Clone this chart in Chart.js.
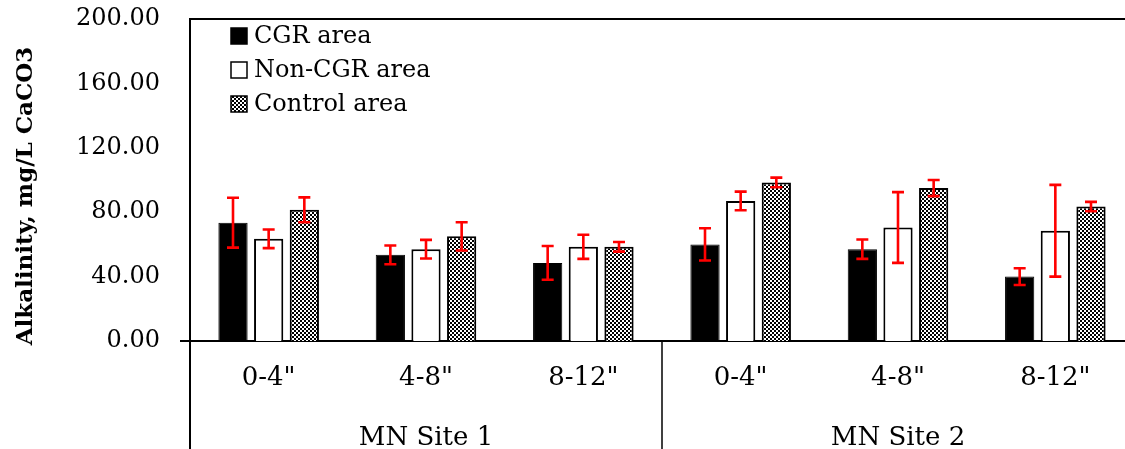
<!DOCTYPE html>
<html>
<head>
<meta charset="utf-8">
<script src="https://cdn.jsdelivr.net/npm/chart.js@4.4.1/dist/chart.umd.min.js"></script>
<style>
  html, body { margin: 0; padding: 0; background: #fff; overflow: hidden; }
  #wrap { width: 1134px; height: 449px; }
</style>
</head>
<body>
<div id="wrap"><canvas id="chart" width="1134" height="449"></canvas></div>
<script>
// data
const depths = ['0-4"', '4-8"', '8-12"', '0-4"', '4-8"', '8-12"'];
const sites = ['MN Site 1', 'MN Site 2'];

const cgr = [73.5, 53.5, 48.5, 60, 57, 40];
const cgrErr = [15.5, 5.8, 10.5, 10, 6, 5.2];
const nonCgr = [63.5, 57, 58.5, 87, 70.5, 68.5];
const nonCgrErr = [5.8, 5.8, 7.5, 5.8, 22, 28.5];
const control = [81.5, 65, 58.5, 98.5, 95, 83.5];
const controlErr = [7.7, 8.8, 3, 3, 5, 2.9];

const yMin = 0, yMax = 200, yStep = 40;
const yTitle = 'Alkalinity, mg/L CaCO3';

// checker pattern for the control bars
const pc = document.createElement('canvas');
pc.width = 4; pc.height = 4;
const pctx = pc.getContext('2d');
pctx.fillStyle = '#fff';
pctx.fillRect(0, 0, 4, 4);
pctx.fillStyle = '#000';
pctx.fillRect(0, 0, 2, 2);
pctx.fillRect(2, 2, 2, 2);
const checker = pctx.createPattern(pc, 'repeat');

Chart.defaults.color = '#000';
Chart.defaults.font.family = 'DejaVu Serif';

// red error bars
const errorBars = {
  id: 'errorBars',
  afterDatasetsDraw(chart) {
    const ctx = chart.ctx;
    const y = chart.scales.y;
    ctx.save();
    ctx.strokeStyle = '#ff0000';
    ctx.lineWidth = 2.6;
    chart.data.datasets.forEach((ds, di) => {
      const meta = chart.getDatasetMeta(di);
      meta.data.forEach((bar, i) => {
        const v = ds.data[i], e = ds.errors[i];
        const top = y.getPixelForValue(v + e);
        const bot = y.getPixelForValue(v - e);
        ctx.beginPath();
        ctx.moveTo(bar.x, top); ctx.lineTo(bar.x, bot);
        ctx.moveTo(bar.x - 6, top); ctx.lineTo(bar.x + 6, top);
        ctx.moveTo(bar.x - 6, bot); ctx.lineTo(bar.x + 6, bot);
        ctx.stroke();
      });
    });
    ctx.restore();
  }
};

// frame lines, group separators, axis title and the legend box
const frame = {
  id: 'frame',
  afterDraw(chart) {
    const ctx = chart.ctx;
    const a = chart.chartArea;
    const x = chart.scales.x;
    const h = chart.height;
    ctx.save();
    ctx.strokeStyle = '#000';
    ctx.lineWidth = 2;
    ctx.beginPath();
    ctx.moveTo(a.left - 1, a.top); ctx.lineTo(a.right, a.top);
    ctx.moveTo(a.left, a.bottom); ctx.lineTo(a.left, h);
    ctx.moveTo(a.left - 10, a.bottom); ctx.lineTo(a.left, a.bottom);
    ctx.stroke();
    ctx.lineWidth = 1.5;
    const mid = (x.getPixelForValue(2) + x.getPixelForValue(3)) / 2;
    ctx.beginPath();
    ctx.moveTo(mid, a.bottom); ctx.lineTo(mid, h);
    ctx.stroke();

    // y axis title
    ctx.save();
    ctx.translate(26, 196);
    ctx.rotate(-Math.PI / 2);
    ctx.font = 'bold 23px "DejaVu Serif"';
    ctx.textAlign = 'center';
    ctx.textBaseline = 'middle';
    ctx.fillStyle = '#000';
    ctx.fillText(yTitle, 0, 0);
    ctx.restore();

    // legend
    ctx.font = '24px "DejaVu Serif"';
    ctx.textBaseline = 'middle';
    chart.data.datasets.forEach((ds, i) => {
      const cy = 36 + i * 34;
      ctx.fillStyle = ds.backgroundColor;
      ctx.fillRect(231, cy - 8, 16, 16);
      ctx.lineWidth = 1.5;
      ctx.strokeStyle = '#000';
      ctx.strokeRect(231, cy - 8, 16, 16);
      ctx.fillStyle = '#000';
      ctx.fillText(ds.label, 254, cy + 1);
    });
    ctx.restore();
  }
};

new Chart(document.getElementById('chart'), {
  type: 'bar',
  data: {
    labels: depths,
    datasets: [
      { label: 'CGR area', data: cgr, errors: cgrErr, backgroundColor: '#000', borderColor: '#000', borderWidth: 1 },
      { label: 'Non-CGR area', data: nonCgr, errors: nonCgrErr, backgroundColor: '#fff', borderColor: '#000', borderWidth: 2 },
      { label: 'Control area', data: control, errors: controlErr, backgroundColor: checker, borderColor: '#000', borderWidth: 2 }
    ]
  },
  options: {
    responsive: false,
    animation: false,
    events: [],
    barPercentage: 0.82,
    categoryPercentage: 0.68,
    layout: { padding: { top: 19, right: 0, bottom: 0, left: 0 } },
    plugins: { legend: { display: false }, tooltip: { enabled: false } },
    scales: {
      y: {
        min: yMin,
        max: yMax,
        afterFit: s => { s.width = 190; s.paddingTop = 0; s.paddingBottom = 0; },
        ticks: {
          stepSize: yStep,
          padding: 30,
          font: { size: 24 },
          callback: v => v.toFixed(2)
        },
        grid: { display: false, drawTicks: false },
        border: { display: true, color: '#000', width: 2 }
      },
      x: {
        weight: 0,
        afterFit: s => { s.height = 70; s.paddingLeft = 0; s.paddingRight = 0; },
        ticks: { autoSkip: false, maxRotation: 0, padding: 22, font: { size: 26 } },
        grid: { display: false, drawTicks: false },
        border: { display: true, color: '#000', width: 2 }
      },
      x2: {
        type: 'category',
        position: 'bottom',
        weight: 1,
        labels: sites,
        offset: true,
        afterFit: s => { s.height = 38; s.paddingLeft = 0; s.paddingRight = 0; },
        ticks: { autoSkip: false, maxRotation: 0, padding: 12, font: { size: 26 } },
        grid: { display: false, drawTicks: false },
        border: { display: false }
      }
    }
  },
  plugins: [errorBars, frame]
});
</script>
</body>
</html>
